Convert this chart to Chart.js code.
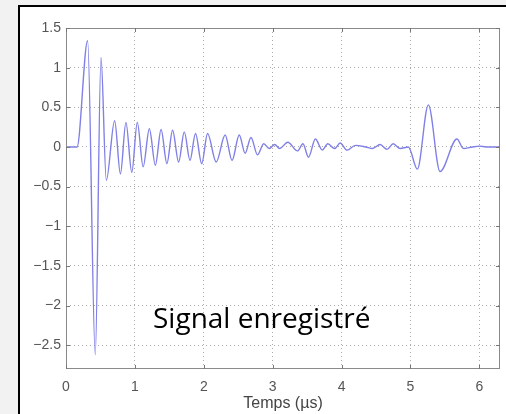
<!DOCTYPE html>
<html>
<head>
<meta charset="utf-8">
<script src="https://cdn.jsdelivr.net/npm/chart.js@4.4.1/dist/chart.umd.min.js"></script>
<style>
  html, body { margin: 0; padding: 0; }
  body { width: 506px; height: 414px; background: #f2f2f2; position: relative; overflow: hidden; }
  #cadre { position: absolute; left: 18px; top: 5px; width: 500px; height: 420px; background: #fff;
           border-left: 2px solid #000; border-top: 2px solid #000; }
  #graphe { position: absolute; left: 0; top: 0; }
</style>
</head>
<body>
<div id="cadre"></div>
<canvas id="graphe" width="506" height="414"></canvas>
<script>
// signal (extrema du signal enregistré)
const tempsUs = [0, 0.16, 0.314, 0.425, 0.508, 0.585, 0.706, 0.79, 0.87, 0.955, 1.035, 1.12, 1.21, 1.297,
  1.38, 1.465, 1.547, 1.635, 1.717, 1.80, 1.88, 1.97, 2.055, 2.18, 2.31, 2.41, 2.515, 2.60, 2.685, 2.78,
  2.87, 2.95, 3.03, 3.10, 3.22, 3.36, 3.44, 3.52, 3.62, 3.72, 3.80, 3.90, 3.98, 4.08, 4.20, 4.35, 4.45,
  4.56, 4.66, 4.75, 4.85, 4.97, 5.10, 5.26, 5.43, 5.675, 5.77, 5.90, 6.00, 6.10, 6.30];
const amplitude = [0, 0, 1.34, -2.62, 1.13, -0.42, 0.33, -0.34, 0.31, -0.32, 0.31, -0.25, 0.23, -0.23,
  0.22, -0.21, 0.21, -0.19, 0.19, -0.17, 0.17, -0.21, 0.17, -0.19, 0.15, -0.17, 0.15, -0.08, 0.12, -0.10,
  0.04, -0.02, 0.03, -0.02, 0.06, -0.05, 0.04, -0.13, 0.10, -0.04, 0.04, -0.02, 0.05, -0.04, 0.02, 0.0, -0.02,
  0.03, -0.03, 0.04, -0.02, 0.0, -0.28, 0.53, -0.31, 0.10, -0.02, 0.0, 0.01, 0.0, 0.0];

const xTicks = [0, 1, 2, 3, 4, 5, 6];
const yTicks = [-2.5, -2, -1.5, -1, -0.5, 0, 0.5, 1, 1.5];
const titreX = 'Temps (µs)';
const legende = 'Signal enregistré';

function formatNombre(v) {
  return v < 0 ? '\u2212' + Math.abs(v) : String(v);
}

// cadre gris + petites graduations vers l'intérieur (style matlab) + texte
const stylePlugin = {
  id: 'stylePlugin',
  afterDraw(chart) {
    const ctx = chart.ctx;
    const a = chart.chartArea;
    const sx = chart.scales.x, sy = chart.scales.y;
    ctx.save();
    ctx.strokeStyle = '#8a8a8a';
    ctx.lineWidth = 1;
    ctx.strokeRect(a.left + 0.5, a.top + 0.5, a.right - a.left - 1, a.bottom - a.top - 1);
    ctx.strokeStyle = '#777';
    ctx.beginPath();
    xTicks.forEach(v => {
      const px = Math.round(sx.getPixelForValue(v)) + 0.5;
      ctx.moveTo(px, a.bottom); ctx.lineTo(px, a.bottom - 4);
      ctx.moveTo(px, a.top); ctx.lineTo(px, a.top + 4);
    });
    yTicks.forEach(v => {
      const py = Math.round(sy.getPixelForValue(v)) + 0.5;
      ctx.moveTo(a.left, py); ctx.lineTo(a.left + 4, py);
      ctx.moveTo(a.right, py); ctx.lineTo(a.right - 4, py);
    });
    ctx.stroke();
    ctx.fillStyle = '#000';
    ctx.font = '28px "Open Sans"';
    ctx.textBaseline = 'alphabetic';
    ctx.fillText(legende, a.left + 87, a.top + 300);
    ctx.restore();
  }
};

new Chart(document.getElementById('graphe'), {
  type: 'line',
  data: {
    datasets: [{
      data: tempsUs.map((t, i) => ({ x: t, y: amplitude[i] })),
      borderColor: 'rgb(128,128,230)',
      borderWidth: 1.4,
      pointRadius: 0,
      cubicInterpolationMode: 'monotone',
      fill: false
    }]
  },
  options: {
    responsive: false,
    animation: false,
    devicePixelRatio: 1,
    layout: { padding: { left: 0, top: 28, right: 6, bottom: 0 } },
    plugins: { legend: { display: false }, tooltip: { enabled: false } },
    scales: {
      x: {
        type: 'linear',
        min: 0,
        max: 6.3,
        afterFit(scale) { scale.height = 45; },
        afterBuildTicks(scale) { scale.ticks = xTicks.map(v => ({ value: v })); },
        grid: { color: '#aaa', drawTicks: false, lineWidth: 1 },
        border: { display: false, dash: [1, 3] },
        ticks: { padding: 10, color: '#555', font: { family: 'Liberation Sans', size: 14 }, callback: v => formatNombre(v) },
        title: { display: true, text: titreX, color: '#444', padding: { top: 0, bottom: 1 },
                 font: { family: 'Liberation Sans', size: 16 } }
      },
      y: {
        min: -2.8,
        max: 1.5,
        afterFit(scale) { scale.width = 66; },
        afterBuildTicks(scale) { scale.ticks = yTicks.map(v => ({ value: v })); },
        grid: { color: '#aaa', drawTicks: false, lineWidth: 1 },
        border: { display: false, dash: [1, 3] },
        ticks: { padding: 5, color: '#555', font: { family: 'Liberation Sans', size: 14 }, callback: v => formatNombre(v) }
      }
    }
  },
  plugins: [stylePlugin]
});
</script>
</body>
</html>
